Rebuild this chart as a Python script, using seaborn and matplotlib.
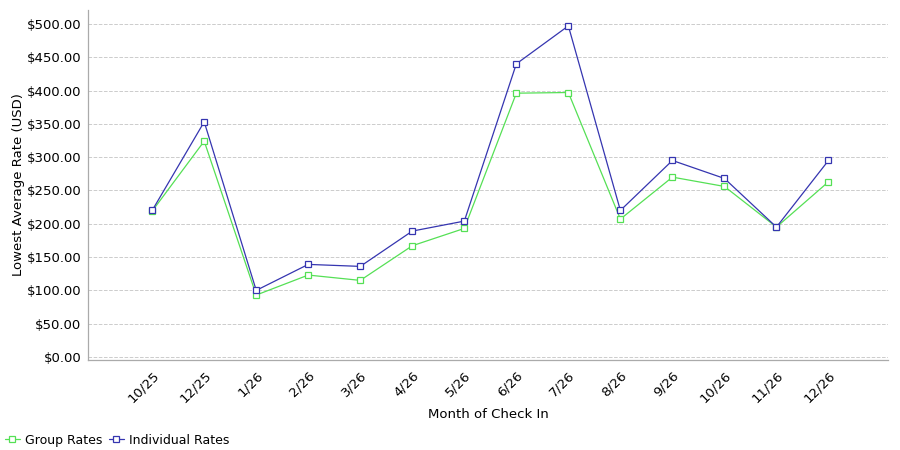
import pandas as pd
import seaborn as sns
import matplotlib.pyplot as plt
from matplotlib.ticker import FuncFormatter, MultipleLocator

sns.set_style('white')
plt.rcParams['font.family'] = ['DejaVu Sans']
plt.rcParams['text.color'] = 'black'
plt.rcParams['axes.labelcolor'] = 'black'
plt.rcParams['xtick.color'] = 'black'
plt.rcParams['ytick.color'] = 'black'

months = ['10/25', '12/25', '1/26', '2/26', '3/26', '4/26', '5/26',
          '6/26', '7/26', '8/26', '9/26', '10/26', '11/26', '12/26']
group_rates = [219, 324, 93, 123, 115, 167, 193,
               396, 397, 207, 270, 256, 195, 263]
individual_rates = [220, 353, 100, 139, 136, 189, 204,
                    440, 497, 220, 295, 268, 195, 295]

green = '#55e055'
blue = '#3535b0'

df = pd.DataFrame({'idx': range(len(months)),
                   'Group Rates': group_rates,
                   'Individual Rates': individual_rates})

fig = plt.figure(figsize=(9, 4.5), dpi=100)
ax = fig.add_axes([0.098, 0.2, 0.889, 0.778])

for col, c in [('Group Rates', green), ('Individual Rates', blue)]:
    sns.lineplot(x='idx', y=col, data=df, color=c, linewidth=0.9,
                 marker='s', markersize=4, markerfacecolor='white',
                 markeredgecolor=c, markeredgewidth=0.9, label=col, ax=ax)

ax.set_xlim(-1.23, 14.15)
ax.set_ylim(-4.5, 521)
ax.set_xticks(range(len(months)))
ax.set_xticklabels(months, rotation=45, ha='right', rotation_mode='anchor',
                   fontsize=9.5)
ax.yaxis.set_major_locator(MultipleLocator(50))
ax.yaxis.set_major_formatter(FuncFormatter(lambda v, p: '${:.2f}'.format(v)))
ax.tick_params(axis='y', labelsize=9.5, length=2, color='#999999', pad=3)
ax.tick_params(axis='x', length=3, color='#999999', pad=3)
ax.grid(axis='y', linestyle='--', color='#cccccc', linewidth=0.7)
ax.set_axisbelow(True)

for s in ['top', 'right']:
    ax.spines[s].set_visible(False)
for s in ['left', 'bottom']:
    ax.spines[s].set_color('#aaaaaa')
    ax.spines[s].set_linewidth(0.9)

ax.set_xlabel('Month of Check In', fontsize=9.5, labelpad=2)
ax.set_ylabel('Lowest Average Rate (USD)', fontsize=9.5, labelpad=1)

ax.get_legend().remove()
handles, labels = ax.get_legend_handles_labels()
fig.legend(handles, labels, loc='lower left', bbox_to_anchor=(-0.007, -0.018),
           ncol=2, frameon=False, fontsize=9, handlelength=1.2,
           handletextpad=0.4, columnspacing=0.5)

plt.savefig('out.png', dpi=100)
